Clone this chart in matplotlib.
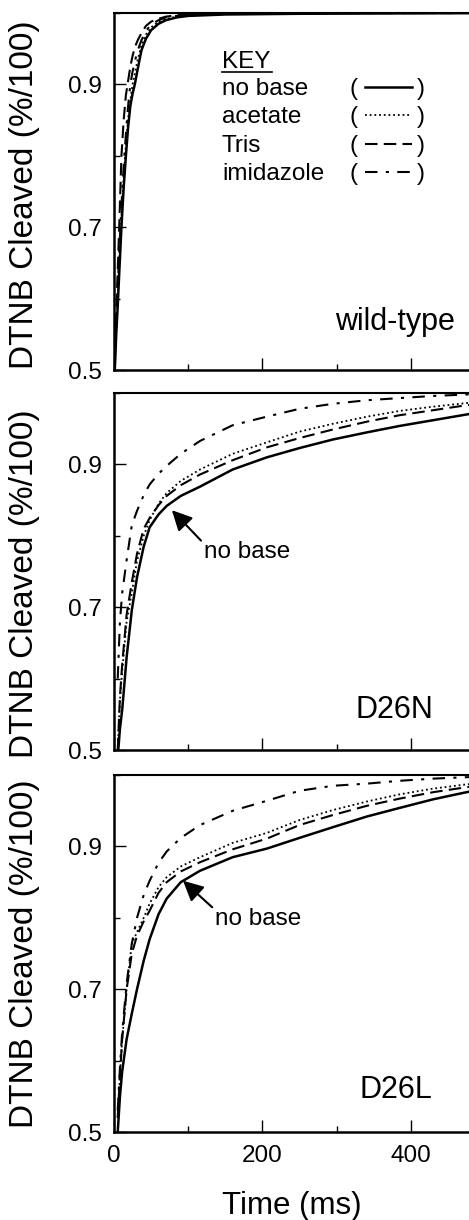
import matplotlib
matplotlib.use("Agg")
import matplotlib.pyplot as plt
from matplotlib.ticker import MultipleLocator

plt.rcParams['font.family'] = ['Liberation Sans', 'DejaVu Sans']

# wild-type (fast, all bases nearly the same)
wt_time = [1, 3, 5, 7, 10, 13, 16, 19, 22, 25, 28, 32, 37, 43, 50, 60, 70, 85, 100, 150, 250, 500]
wt_nobase = [0.50, 0.55, 0.59, 0.635, 0.70, 0.755, 0.80, 0.84, 0.87, 0.887, 0.90, 0.922, 0.948, 0.964, 0.976, 0.985, 0.99, 0.994, 0.996, 0.998, 0.999, 1.0]
wt_acetate = [0.50, 0.56, 0.60, 0.65, 0.715, 0.77, 0.815, 0.852, 0.878, 0.90, 0.915, 0.935, 0.955, 0.97, 0.98, 0.988, 0.992, 0.995, 0.997, 0.999, 1.0, 1.0]
wt_tris = [0.51, 0.58, 0.64, 0.70, 0.80, 0.85, 0.885, 0.905, 0.925, 0.94, 0.952, 0.962, 0.972, 0.982, 0.988, 0.992, 0.995, 0.997, 0.998, 0.999, 1.0, 1.0]
wt_imid = [0.50, 0.57, 0.615, 0.665, 0.73, 0.785, 0.83, 0.87, 0.90, 0.918, 0.932, 0.948, 0.962, 0.975, 0.984, 0.99, 0.994, 0.996, 0.998, 0.999, 1.0, 1.0]

# D26N
n_time = [5, 8, 11, 17, 24, 31, 40, 48, 60, 71, 90, 116, 160, 206, 250, 295, 341, 385, 430, 475, 500]
n_nobase = [0.49, 0.53, 0.556, 0.63, 0.696, 0.742, 0.785, 0.812, 0.83, 0.842, 0.856, 0.869, 0.893, 0.91, 0.923, 0.935, 0.945, 0.954, 0.962, 0.970, 0.974]
n_acetate = [0.50, 0.57, 0.61, 0.68, 0.72, 0.765, 0.80, 0.822, 0.845, 0.86, 0.877, 0.893, 0.915, 0.931, 0.946, 0.957, 0.967, 0.975, 0.981, 0.986, 0.988]
n_tris = [0.50, 0.575, 0.62, 0.69, 0.735, 0.775, 0.81, 0.825, 0.843, 0.856, 0.871, 0.886, 0.906, 0.924, 0.937, 0.949, 0.960, 0.969, 0.976, 0.983, 0.985]
n_imid = [0.60, 0.68, 0.72, 0.766, 0.815, 0.835, 0.857, 0.872, 0.887, 0.898, 0.915, 0.933, 0.955, 0.967, 0.978, 0.985, 0.990, 0.993, 0.996, 0.998, 0.999]

# D26L
l_time = [5, 8, 11, 17, 24, 31, 40, 48, 60, 71, 90, 116, 160, 206, 250, 295, 341, 385, 430, 475, 500]
l_nobase = [0.50, 0.55, 0.585, 0.63, 0.666, 0.70, 0.74, 0.77, 0.805, 0.827, 0.85, 0.866, 0.885, 0.897, 0.912, 0.927, 0.942, 0.954, 0.966, 0.976, 0.981]
l_acetate = [0.52, 0.58, 0.63, 0.70, 0.764, 0.78, 0.80, 0.82, 0.843, 0.857, 0.872, 0.885, 0.905, 0.919, 0.937, 0.951, 0.963, 0.973, 0.981, 0.987, 0.989]
l_tris = [0.52, 0.58, 0.63, 0.70, 0.75, 0.775, 0.795, 0.81, 0.835, 0.85, 0.865, 0.878, 0.896, 0.911, 0.93, 0.944, 0.957, 0.967, 0.976, 0.983, 0.986]
l_imid = [0.53, 0.59, 0.64, 0.708, 0.764, 0.80, 0.832, 0.852, 0.877, 0.893, 0.912, 0.93, 0.95, 0.964, 0.978, 0.985, 0.988, 0.992, 0.995, 0.997, 0.998]

key_labels = ['no base', 'acetate', 'Tris', 'imidazole']
styles = [
    dict(ls='-', lw=1.8),
    dict(ls=(0, (1, 1.6)), lw=1.3),
    dict(ls=(0, (6, 3)), lw=1.5),
    dict(ls=(0, (6, 4, 1.5, 4)), lw=1.5),
]

panels = [
    ('wild-type', wt_time, [wt_nobase, wt_acetate, wt_tris, wt_imid]),
    ('D26N', n_time, [n_nobase, n_acetate, n_tris, n_imid]),
    ('D26L', l_time, [l_nobase, l_acetate, l_tris, l_imid]),
]

fig = plt.figure(figsize=(4.69, 12.2), dpi=100)
bottoms = [0.6967, 0.3852, 0.0721]
label_y = [0.49, 0.466, 0.5]
axes = []
for (name, t, series), b, ly in zip(panels, bottoms, label_y):
    ax = fig.add_axes([0.2431, b, 0.791, 0.2926])
    for y, st in zip(series, styles):
        ax.plot(t, y, color='black', **st)
    ax.set_xlim(0, 500)
    ax.set_ylim(0.5, 1.0)
    ax.yaxis.set_minor_locator(MultipleLocator(0.1))
    ax.set_yticks([0.5, 0.7, 0.9])
    ax.set_yticklabels(['0.5', '0.7', '0.9'])
    ax.xaxis.set_major_locator(MultipleLocator(200))
    ax.xaxis.set_minor_locator(MultipleLocator(100))
    ax.tick_params(which='both', direction='in', top=False, right=False,
                   labelsize=17.5, width=1.0, pad=9)
    ax.tick_params(which='major', length=8.5)
    ax.tick_params(which='minor', length=4)
    for sp in ['left', 'bottom']:
        ax.spines[sp].set_linewidth(1.8)
    ax.spines['top'].set_linewidth(1.5)
    ax.spines['right'].set_visible(False)
    ax.set_ylabel('DTNB Cleaved (%/100)', fontsize=24)
    ax.yaxis.set_label_coords(-0.20, ly)
    axes.append(ax)

axes[0].tick_params(labelbottom=False)
axes[1].tick_params(labelbottom=False)
axes[2].set_xlabel('Time (ms)', fontsize=22.5)
axes[2].xaxis.set_label_coords(0.48, -0.165)

# panel names
axes[0].text(0.919, 0.112, 'wild-type', transform=axes[0].transAxes,
             ha='right', va='baseline', fontsize=22)
axes[1].text(0.86, 0.090, 'D26N', transform=axes[1].transAxes,
             ha='right', va='baseline', fontsize=22)
axes[2].text(0.857, 0.095, 'D26L', transform=axes[2].transAxes,
             ha='right', va='baseline', fontsize=22)

# key in the wild-type panel
ax = axes[0]
ax.text(0.291, 0.847, 'KEY', transform=ax.transAxes,
        ha='left', va='baseline', fontsize=17.5)
ax.plot([0.291, 0.425], [0.836, 0.836], transform=ax.transAxes, color='black', lw=1.2)
for i, (lab, st) in enumerate(zip(key_labels, styles)):
    yb = 0.771 - i * 0.0795
    ax.text(0.291, yb, lab, transform=ax.transAxes, ha='left', va='baseline', fontsize=17.5)
    ax.text(0.636, yb, '(', transform=ax.transAxes, ha='left', va='baseline', fontsize=17.5)
    ax.text(0.838, yb, ')', transform=ax.transAxes, ha='right', va='baseline', fontsize=17.5)
    ax.plot([0.677, 0.803], [yb + 0.022, yb + 0.022], transform=ax.transAxes,
            color='black', **st)

# "no base" arrows
arrow = dict(arrowstyle='-|>,head_length=0.7,head_width=0.35', color='black', lw=1.5,
             shrinkA=0, shrinkB=0, relpos=(0.0, 0.9))
axes[1].annotate('no base', xy=(78, 0.836), xytext=(121, 0.777), fontsize=17.5,
                 ha='left', va='center', arrowprops=arrow)
axes[2].annotate('no base', xy=(93, 0.852), xytext=(136, 0.799), fontsize=17.5,
                 ha='left', va='center', arrowprops=arrow)

fig.savefig('out.png', dpi=100)
